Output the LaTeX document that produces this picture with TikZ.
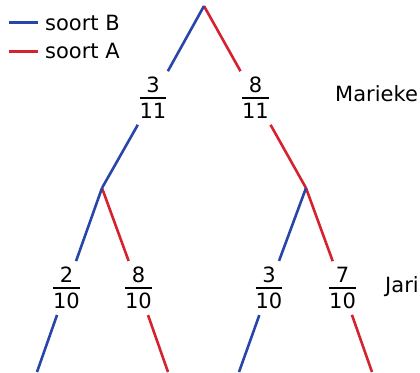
\documentclass[tikz,border=0pt]{standalone}
\usepackage{fontspec}
\setmainfont{DejaVu Sans}
\newcommand\myfr[2]{\vbox{\offinterlineskip\halign{\hfil##\hfil\cr #1\cr\noalign{\kern4pt\hrule height 2pt\kern4pt}#2\cr}}}
\definecolor{blueB}{RGB}{40,70,168}
\definecolor{redA}{RGB}{214,34,46}
\tikzset{
  br/.style={line width=2.6pt},
  bb/.style={br,draw=blueB},
  ba/.style={br,draw=redA},
  frac/.style={inner xsep=3pt,inner ysep=6pt,font=\fontsize{21}{25}\selectfont},
  lab/.style={inner sep=0pt,anchor=base west,font=\fontsize{21}{25}\selectfont},
}
\begin{document}
\begin{tikzpicture}[x=1pt,y=-1pt]
\useasboundingbox (0,0) rectangle (420,372);
% legend
\coordinate (lb1) at (9,22.5); \coordinate (lb2) at (38,22.5);
\coordinate (la1) at (9,51.5); \coordinate (la2) at (38,51.5);
\draw[bb] (lb1) -- (lb2);
\draw[ba] (la1) -- (la2);
\node[lab] (tB) at (45,30) {soort B};
\node[lab] (tA) at (45,58) {soort A};
% tree points
\coordinate (root) at (204,6);
\coordinate (jL) at (102,188);
\coordinate (jR) at (306,188);
\coordinate (l1) at (37,372);
\coordinate (l2) at (168,372);
\coordinate (l3) at (239,372);
\coordinate (l4) at (372,372);
% fractions
\node[frac] (f311) at (153,98) {\myfr{3}{11}};
\node[frac] (f811) at (255.5,98) {\myfr{8}{11}};
\node[frac] (f210) at (66.5,288) {\myfr{2}{10}};
\node[frac] (f810) at (138.5,288) {\myfr{8}{10}};
\node[frac] (f310) at (269,288) {\myfr{3}{10}};
\node[frac] (f710) at (342.5,288) {\myfr{7}{10}};
% branches
\draw[ba] (root) -- (f811) -- (jR);
\draw[bb] (root) -- (f311) -- (jL);
\draw[ba] (jL) -- (f810) -- (l2);
\draw[bb] (jL) -- (f210) -- (l1);
\draw[ba] (jR) -- (f710) -- (l4);
\draw[bb] (jR) -- (f310) -- (l3);
% labels
\node[lab] (mar) at (335,101.5) {Marieke};
\node[lab] (jar) at (385,292) {Jari};
\end{tikzpicture}
\end{document}
